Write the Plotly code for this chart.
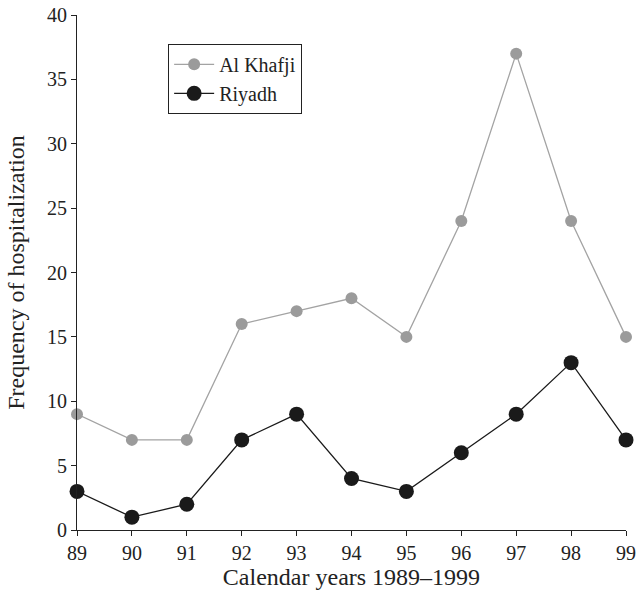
import plotly.graph_objects as go

years = [89, 90, 91, 92, 93, 94, 95, 96, 97, 98, 99]
al_khafji = [9, 7, 7, 16, 17, 18, 15, 24, 37, 24, 15]
riyadh = [3, 1, 2, 7, 9, 4, 3, 6, 9, 13, 7]

font_family = "Liberation Serif, Times New Roman, serif"

fig = go.Figure()
fig.add_trace(go.Scatter(
    x=years, y=al_khafji, name="Al Khafji", mode="lines+markers",
    line=dict(color="#a3a3a3", width=1.3),
    marker=dict(color="#9b9b9b", size=12),
    cliponaxis=False,
))
fig.add_trace(go.Scatter(
    x=years, y=riyadh, name="Riyadh", mode="lines+markers",
    line=dict(color="#1a1a1a", width=1.3),
    marker=dict(color="#1a1a1a", size=15),
    cliponaxis=False,
))

fig.update_layout(
    width=639, height=596,
    margin=dict(l=77, r=13, t=15, b=66),
    paper_bgcolor="white", plot_bgcolor="white",
    font=dict(family=font_family, size=20, color="#222"),
    showlegend=True,
    legend=dict(
        x=0.166, y=0.944, xanchor="left", yanchor="top",
        bordercolor="#222", borderwidth=1, bgcolor="white",
        font=dict(family=font_family, size=20, color="#222"),
        itemwidth=40,
    ),
    xaxis=dict(
        range=[89, 99], tickmode="array", tickvals=years,
        ticktext=[str(y) for y in years],
        showline=True, linecolor="#222", linewidth=1.2,
        ticks="outside", ticklen=5, tickcolor="#222",
        showgrid=False, zeroline=False, automargin=False,
        title=dict(text="Calendar years 1989–1999", standoff=4),
    ),
    yaxis=dict(
        range=[0, 40], tickmode="linear", tick0=0, dtick=5,
        showline=True, linecolor="#222", linewidth=1.2,
        ticks="outside", ticklen=5, tickcolor="#222",
        showgrid=False, zeroline=False, automargin=False,
        title=dict(text="Frequency of hospitalization"),
    ),
)

fig.write_html(
    "out.html",
    config={"displayModeBar": False},
    post_script="document.body.style.margin='0';document.body.style.padding='0';",
)
